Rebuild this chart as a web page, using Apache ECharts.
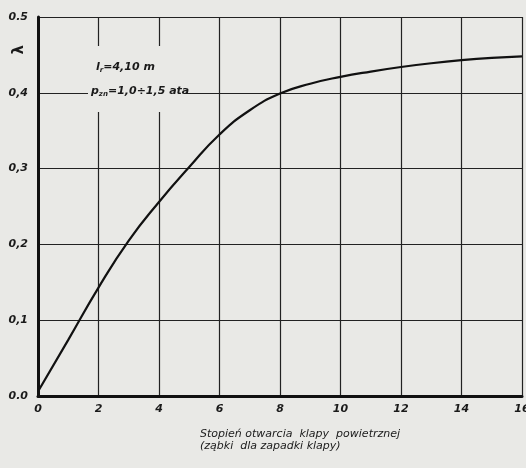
<!DOCTYPE html>
<html><head><meta charset="utf-8">
<script src="https://cdn.jsdelivr.net/npm/echarts@6/dist/echarts.min.js"></script>
<style>html,body{margin:0;padding:0;background:#e9e9e6;}#c{width:526px;height:468px;}</style>
</head><body><div id="c"></div>
<script>
const xValues = [0, 1, 2, 3, 4, 5, 6, 7, 8, 9, 10, 11, 12, 13, 14, 15, 16];
const lambdaValues = [0.006, 0.074, 0.143, 0.205, 0.256, 0.302, 0.345, 0.377, 0.399, 0.412, 0.421, 0.428, 0.434, 0.439, 0.443, 0.446, 0.448];
const yTickLabels = {"0": "0.0", "0.1": "0,1", "0.2": "0,2", "0.3": "0,3", "0.4": "0,4", "0.5": "0.5"};
const xTitle = "Stopień otwarcia  klapy  powietrznej\n(ząbki  dla zapadki klapy)";
const note1 = "l{s|r}=4,10 m";
const note2 = "p{s|zn}=1,0÷1,5 ata";

const chart = echarts.init(document.getElementById('c'));
const labelFont = {fontFamily: 'DejaVu Sans', fontStyle: 'italic', fontWeight: 'bold', fontSize: 11, color: '#1a1a1a'};
chart.setOption({
  backgroundColor: '#e9e9e6',
  animation: false,
  grid: {left: 38, right: 4, top: 17, bottom: 72, outerBoundsMode: 'none', containLabel: false},
  xAxis: {
    type: 'value', min: 0, max: 16, interval: 2,
    axisLine: {show: true, lineStyle: {color: '#111', width: 3}},
    axisTick: {show: false},
    axisLabel: Object.assign({margin: 8}, labelFont),
    splitLine: {show: true, lineStyle: {color: '#222', width: 1.2}}
  },
  yAxis: {
    type: 'value', min: 0, max: 0.5, interval: 0.1,
    axisLine: {show: true, onZero: false, lineStyle: {color: '#111', width: 3}},
    axisTick: {show: false},
    axisLabel: Object.assign({margin: 10, formatter: v => yTickLabels[String(Math.round(v*10)/10)] || ''}, labelFont),
    splitLine: {show: true, lineStyle: {color: '#222', width: 1.2}}
  },
  graphic: [
    {type: 'rect', z: 50, shape: {x: 88, y: 46, width: 96, height: 66}, style: {fill: '#e9e9e6'}},
    {type: 'text', z: 60, left: 96, top: 62, style: {text: note1, font: 'italic bold 11px "DejaVu Sans"', fill: '#1a1a1a',
      rich: {s: {fontSize: 7, fontStyle: 'italic', fontWeight: 'bold', fontFamily: 'DejaVu Sans', verticalAlign: 'bottom', padding: [6,0,0,0]}}}},
    {type: 'text', z: 60, left: 91, top: 86, style: {text: note2, font: 'italic bold 11px "DejaVu Sans"', fill: '#1a1a1a',
      rich: {s: {fontSize: 7, fontStyle: 'italic', fontWeight: 'bold', fontFamily: 'DejaVu Sans', verticalAlign: 'bottom', padding: [6,0,0,0]}}}},
    {type: 'text', z: 60, left: 12, top: 45, rotation: Math.PI/2, originX: 0, originY: 0,
      style: {text: 'λ', font: 'bold 15px "DejaVu Sans"', fill: '#1a1a1a'}},
    {type: 'text', z: 60, left: 200, top: 428, style: {text: xTitle, font: 'italic 11px "DejaVu Sans"', fill: '#1a1a1a', lineHeight: 12}}
  ],
  series: [{
    type: 'line', data: xValues.map((x, i) => [x, lambdaValues[i]]),
    smooth: true, symbol: 'none', lineStyle: {color: '#111', width: 2.2}, z: 10
  }]
});
</script></body></html>
